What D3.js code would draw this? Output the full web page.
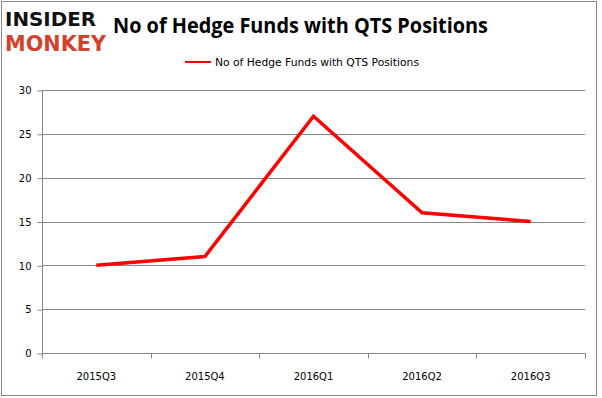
<!DOCTYPE html>
<html>
<head>
<meta charset="utf-8">
<script src="https://cdn.jsdelivr.net/npm/d3@7"></script>
<style>
  body { margin: 0; background: #fff; }
  text { font-family: "DejaVu Sans", Verdana, sans-serif; }
</style>
</head>
<body>
<div id="chart"></div>
<script>
// datos
const quarters = ['2015Q3', '2015Q4', '2016Q1', '2016Q2', '2016Q3'];
const funds = [10, 11, 27, 16, 15];
const yTicks = [0, 5, 10, 15, 20, 25, 30];
const seriesName = 'No of Hedge Funds with QTS Positions';
const title = 'No of Hedge Funds with QTS Positions';

const WIDTH = 602;
const HEIGHT = 398;
const PLOT = { LEFT: 42, RIGHT: 585, TOP: 90, BOTTOM: 353 };

const svg = d3.select('#chart')
  .append('svg')
    .attr('width', WIDTH)
    .attr('height', HEIGHT);

// marco exterior
svg.append('rect')
  .attr('x', 1.5).attr('y', 1.5)
  .attr('width', 595).attr('height', 394)
  .attr('fill', '#fff')
  .attr('stroke', '#888')
  .attr('stroke-width', 1);

// logo
svg.append('text')
  .attr('x', 5).attr('y', 26)
  .attr('textLength', 91).attr('lengthAdjust', 'spacingAndGlyphs')
  .style('font-size', '19px').style('font-weight', 'bold')
  .attr('fill', '#111')
  .text('INSIDER');
svg.append('text')
  .attr('x', 5).attr('y', 51)
  .attr('textLength', 101).attr('lengthAdjust', 'spacingAndGlyphs')
  .style('font-size', '21px').style('font-weight', 'bold')
  .attr('fill', '#d4412b')
  .text('MONKEY');

// titulo
svg.append('text')
  .attr('x', 113).attr('y', 33)
  .attr('textLength', 375).attr('lengthAdjust', 'spacingAndGlyphs')
  .style('font-family', '"Open Sans", sans-serif')
  .style('font-size', '21px').style('font-weight', 'bold')
  .attr('fill', '#000')
  .text(title);

// leyenda
svg.append('line')
  .attr('x1', 185).attr('x2', 211)
  .attr('y1', 62).attr('y2', 62)
  .attr('stroke', '#ff0000').attr('stroke-width', 2);
svg.append('text')
  .attr('x', 215).attr('y', 66)
  .attr('textLength', 204).attr('lengthAdjust', 'spacingAndGlyphs')
  .style('font-size', '10px')
  .attr('fill', '#000')
  .text(seriesName);

// escalas
const xscale = d3.scaleBand().domain(quarters).range([PLOT.LEFT, PLOT.RIGHT]);
const yscale = d3.scaleLinear().domain([0, 30]).range([PLOT.BOTTOM, PLOT.TOP]);

// grilla
svg.append('g')
  .selectAll('line')
  .data(yTicks.filter(d => d > 0))
  .join('line')
    .attr('x1', PLOT.LEFT).attr('x2', PLOT.RIGHT)
    .attr('y1', d => Math.round(yscale(d)) + 0.5)
    .attr('y2', d => Math.round(yscale(d)) + 0.5)
    .attr('stroke', '#868686');

// eje y
const yAxis = svg.append('g')
  .attr('transform', `translate(${PLOT.LEFT + 0.5}, 0.5)`)
  .call(d3.axisLeft(yscale).tickValues(yTicks).tickSize(5).tickPadding(6));
yAxis.select('.domain').attr('stroke', '#868686').attr('d', `M0,${PLOT.TOP}V${PLOT.BOTTOM}`);
yAxis.selectAll('.tick line').attr('stroke', '#868686');
yAxis.selectAll('.tick text')
  .style('font-size', '10px').style('font-family', '"DejaVu Sans", sans-serif')
  .attr('fill', '#000');

// eje x
const xAxis = svg.append('g')
  .attr('transform', `translate(0, ${PLOT.BOTTOM + 0.5})`);
xAxis.append('line')
  .attr('x1', PLOT.LEFT).attr('x2', PLOT.RIGHT)
  .attr('stroke', '#868686');
xAxis.selectAll('.xtick')
  .data(quarters.concat(['end']))
  .join('line')
    .attr('class', 'xtick')
    .attr('x1', (d, i) => Math.round(i < quarters.length ? xscale(d) : PLOT.RIGHT) + 0.5)
    .attr('x2', (d, i) => Math.round(i < quarters.length ? xscale(d) : PLOT.RIGHT) + 0.5)
    .attr('y1', 0).attr('y2', 5)
    .attr('stroke', '#868686');
xAxis.selectAll('.xlabel')
  .data(quarters)
  .join('text')
    .attr('class', 'xlabel')
    .attr('x', d => xscale(d) + xscale.bandwidth() / 2)
    .attr('y', 26)
    .attr('text-anchor', 'middle')
    .style('font-size', '10px')
    .attr('fill', '#000')
    .text(d => d);

// serie
const line = d3.line()
  .x((d, i) => xscale(quarters[i]) + xscale.bandwidth() / 2)
  .y(d => yscale(d));

svg.append('path')
  .datum(funds)
  .attr('d', line)
  .attr('fill', 'none')
  .attr('stroke', '#ff0000')
  .attr('stroke-width', 3.5)
  .attr('stroke-linejoin', 'miter');
</script>
</body>
</html>
